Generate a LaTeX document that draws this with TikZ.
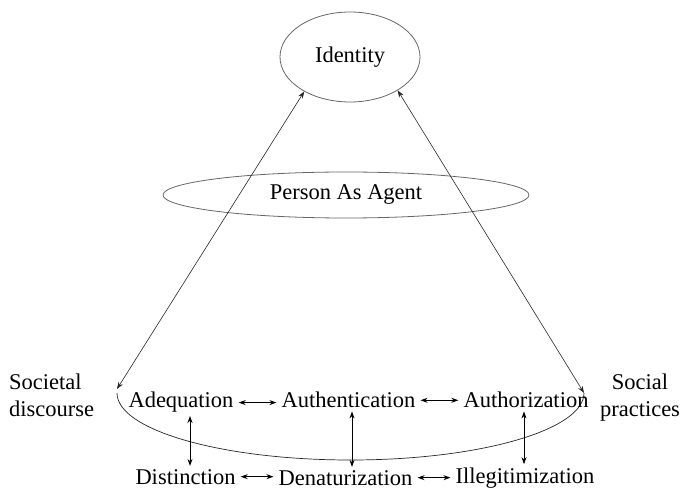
\documentclass[tikz,border=0pt]{standalone}
\usepackage{fontspec}
\setmainfont{Liberation Serif}
\usetikzlibrary{arrows.meta,shapes.geometric}
\begin{document}
\begin{tikzpicture}[x=1pt,y=1pt,
  lbl/.style={inner xsep=5pt,inner ysep=3pt,anchor=base,font=\fontsize{22.5}{27}\selectfont},
  oval/.style={ellipse,draw=black!60,line width=0.8pt,inner sep=0pt,font=\fontsize{22.5}{27}\selectfont},
  dbl/.style={{Stealth[length=7pt,width=5pt]}-{Stealth[length=7pt,width=5pt]},line width=0.9pt},
  diag/.style={{Stealth[length=7pt,width=5pt]}-{Stealth[length=7pt,width=5pt]},line width=0.6pt,draw=black!85}]
\useasboundingbox (0,0) rectangle (685,490);
\node[oval,minimum width=140pt,minimum height=90pt] (id) at (350,433) {Identity};
\node[oval,minimum width=366pt,minimum height=46pt] (pa) at (346,295) {Person As Agent};
\coordinate (L) at (117,101);
\coordinate (R) at (584,97);
\draw[diag] (L) -- (id.217);
\draw[diag] (R) -- (id.325);
\draw[line width=0.7pt,draw=black!85] (117,97) arc[start angle=180,end angle=360,x radius=233.5,y radius=67];
\node[lbl] (adeq) at (181,82) {Adequation};
\node[lbl] (auth) at (348.5,82) {Authentication};
\node[lbl] (authz) at (526,82) {Authorization};
\node[lbl] (dist) at (185.5,6) {Distinction};
\node[lbl] (den) at (345.5,5) {Denaturization};
\node[lbl] (ill) at (525,7) {Illegitimization};
\node[font=\fontsize{22.5}{27}\selectfont,align=left,anchor=west,inner sep=0pt] (soc) at (9,95) {Societal\\discourse};
\node[font=\fontsize{22.5}{27}\selectfont,align=center,inner sep=0pt] (sp) at (640,92) {Social\\practices};
\draw[dbl] (adeq.east) -- (adeq.east -| auth.west);
\draw[dbl] (auth.east) -- (auth.east -| authz.west);
\draw[dbl] (dist.east) -- (dist.east -| den.west);
\draw[dbl] (den.east) -- (den.east -| ill.west);
\draw[dbl] ([xshift=9pt]adeq.south) -- ([xshift=9pt]adeq.south |- dist.north);
\draw[dbl] ([xshift=3.5pt]auth.south) -- ([xshift=3.5pt]auth.south |- den.north);
\draw[dbl] ([xshift=-2pt]authz.south) -- ([xshift=-2pt]authz.south |- ill.north);
\end{tikzpicture}
\end{document}
